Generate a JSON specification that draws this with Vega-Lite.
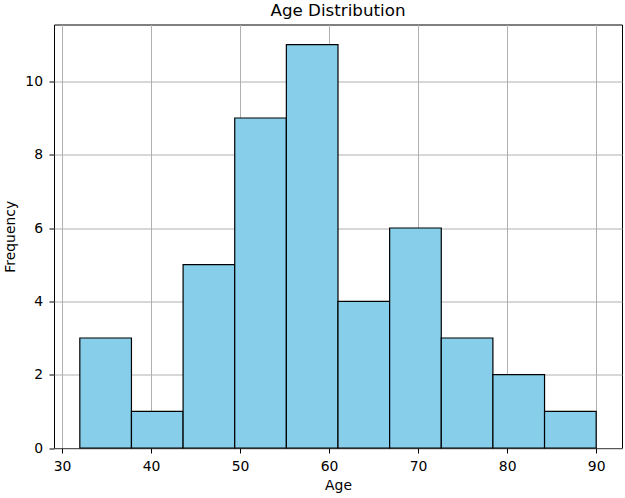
{
  "$schema": "https://vega.github.io/schema/vega-lite/v6.json",
  "width": 568,
  "height": 423.5,
  "autosize": {"type": "none"},
  "padding": {"left": 54, "top": 24.5, "right": 3, "bottom": 50},
  "background": "white",
  "title": {
    "text": "Age Distribution",
    "font": "DejaVu Sans",
    "fontSize": 16.7,
    "fontWeight": "normal",
    "color": "black",
    "anchor": "middle",
    "frame": "group",
    "baseline": "alphabetic",
    "offset": 8.5,
    "dy": 17
  },
  "config": {
    "view": {"stroke": "black", "strokeWidth": 1},
    "axis": {
      "labelFont": "DejaVu Sans",
      "labelFontSize": 13.9,
      "labelColor": "black",
      "titleFont": "DejaVu Sans",
      "titleFontSize": 13.9,
      "titleFontWeight": "normal",
      "titleColor": "black",
      "domain": false,
      "ticks": true,
      "tickColor": "black",
      "tickSize": 5,
      "tickWidth": 1,
      "labelPadding": 4.5,
      "grid": true,
      "gridColor": "#b0b0b0",
      "gridWidth": 1,
      "zindex": 1
    }
  },
  "data": {
    "values": [
      {"bin_start": 32.0, "bin_end": 37.8, "count": 3},
      {"bin_start": 37.8, "bin_end": 43.6, "count": 1},
      {"bin_start": 43.6, "bin_end": 49.4, "count": 5},
      {"bin_start": 49.4, "bin_end": 55.2, "count": 9},
      {"bin_start": 55.2, "bin_end": 61.0, "count": 11},
      {"bin_start": 61.0, "bin_end": 66.8, "count": 4},
      {"bin_start": 66.8, "bin_end": 72.6, "count": 6},
      {"bin_start": 72.6, "bin_end": 78.4, "count": 3},
      {"bin_start": 78.4, "bin_end": 84.2, "count": 2},
      {"bin_start": 84.2, "bin_end": 90.0, "count": 1}
    ]
  },
  "mark": {"type": "rect", "fill": "#87CEEB", "stroke": "black", "strokeWidth": 1.2},
  "encoding": {
    "x": {
      "field": "bin_start",
      "type": "quantitative",
      "title": "Age",
      "scale": {"domain": [29.1, 92.9], "nice": false, "zero": false},
      "axis": {"values": [30, 40, 50, 60, 70, 80, 90], "labelPadding": 6, "titlePadding": 6}
    },
    "x2": {"field": "bin_end"},
    "y": {
      "field": "count",
      "type": "quantitative",
      "title": "Frequency",
      "scale": {"domain": [0, 11.55], "nice": false},
      "axis": {"values": [0, 2, 4, 6, 8, 10], "labelPadding": 6.5, "titlePadding": 7}
    },
    "y2": {"datum": 0}
  }
}
